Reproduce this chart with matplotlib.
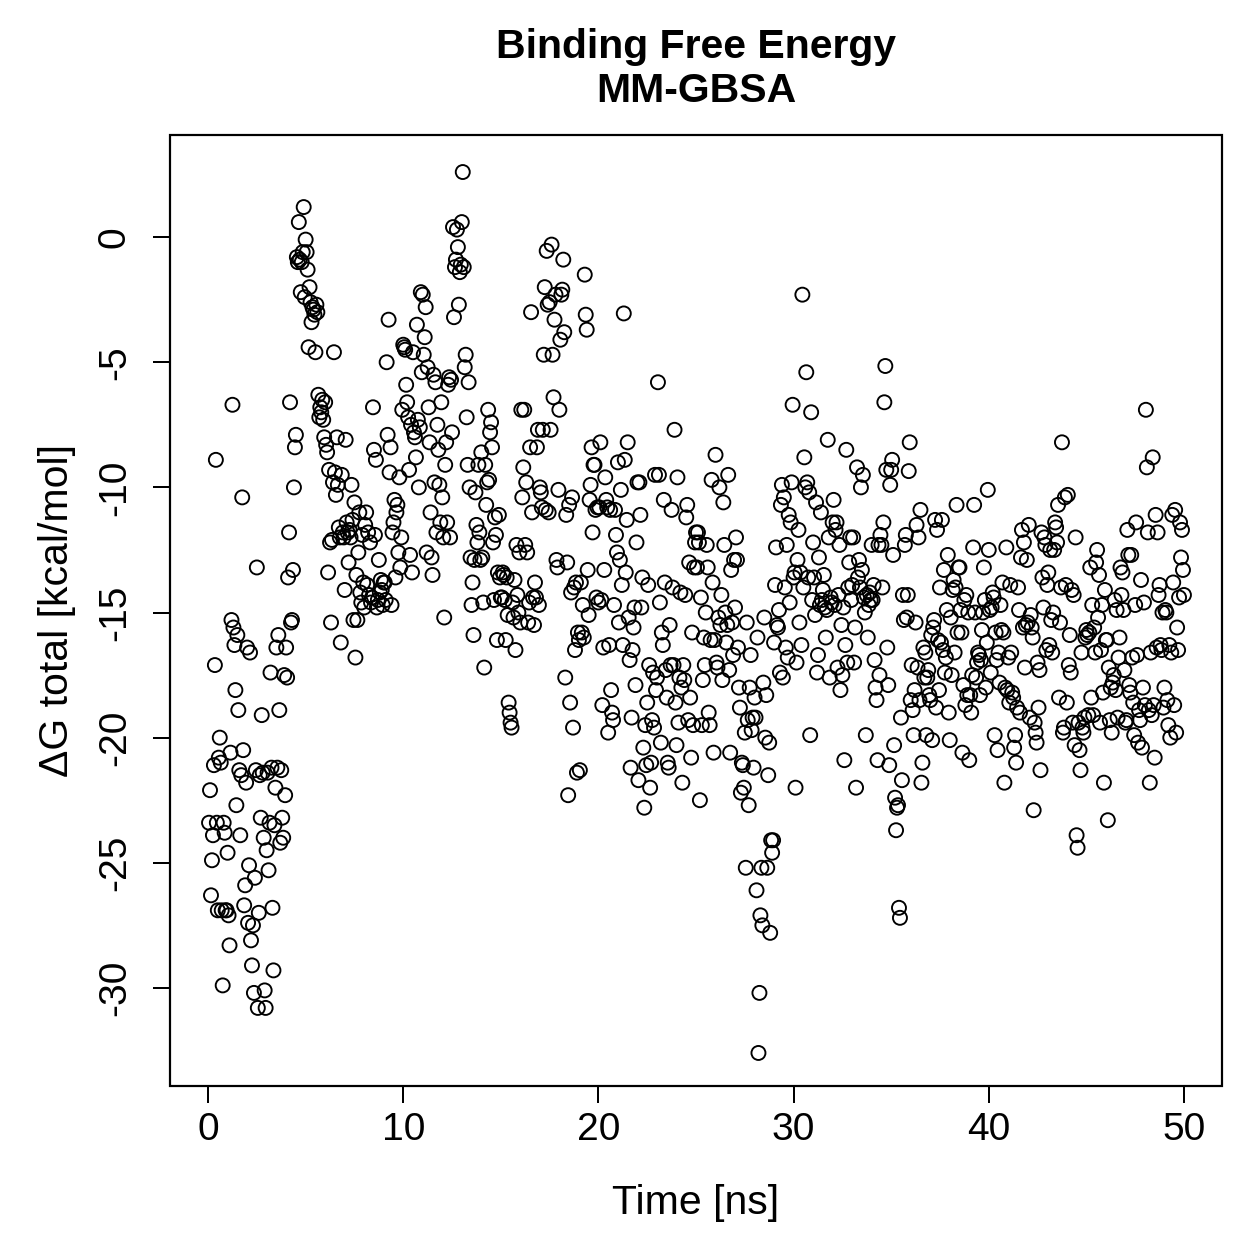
import numpy as np
import matplotlib
matplotlib.use("Agg")
import matplotlib.pyplot as plt

plt.rcParams['font.family'] = ['Liberation Sans', 'DejaVu Sans']
plt.rcParams['axes.unicode_minus'] = False

# Binding free energy per frame (20 frames per ns, 0.05 ns step), kcal/mol
dg_rows = [
    [-23.4, -22.1, -26.3, -24.9, -23.9, -21.1, -17.1, -8.9, -23.4, -26.9, -20.8, -20.0, -21.0, -26.9, -29.9, -23.4, -23.8, -26.9, -26.9, -24.6],
    [-27.1, -28.3, -20.6, -15.3, -6.7, -15.6, -16.3, -18.1, -22.7, -15.9, -18.9, -21.3, -23.9, -21.5, -10.4, -20.5, -26.7, -25.9, -21.8, -16.4],
    [-27.4, -25.1, -16.6, -28.1, -29.1, -27.5, -30.2, -25.6, -21.3, -13.2, -30.8, -27.0, -21.5, -23.2, -19.1, -21.4, -24.0, -30.1, -30.8, -24.5],
    [-21.4, -25.3, -23.4, -17.4, -21.2, -26.8, -29.3, -23.5, -22.0, -16.4, -21.2, -15.9, -18.9, -24.2, -21.3, -23.2, -24.0, -17.5, -22.3, -16.4],
    [-17.6, -13.6, -11.8, -6.6, -15.4, -15.3, -13.3, -10.0, -8.4, -7.9, -0.8, -1.0, 0.6, -0.9, -2.2, -1.0, -0.6, 1.2, -2.4, -0.1],
    [-0.6, -1.3, -4.4, -2.0, -2.6, -3.4, -2.8, -2.9, -3.1, -4.6, -2.7, -3.0, -6.3, -7.2, -6.8, -7.0, -6.5, -7.3, -8.0, -6.6],
    [-8.3, -8.6, -13.4, -9.3, -12.2, -15.4, -12.1, -9.8, -4.6, -9.4, -10.3, -8.0, -9.9, -11.6, -12.0, -16.2, -9.5, -11.8, -12.0, -14.1],
    [-8.1, -11.4, -11.8, -13.0, -11.7, -12.0, -9.9, -11.3, -15.3, -10.6, -16.8, -13.5, -15.3, -12.6, -11.0, -14.2, -14.6, -11.9, -13.8, -14.8],
    [-11.5, -11.0, -13.9, -11.8, -14.3, -12.2, -14.6, -14.4, -6.8, -8.5, -11.9, -8.9, -14.8, -14.5, -12.9, -14.2, -13.7, -14.1, -14.7, -13.8],
    [-13.8, -14.5, -5.0, -7.9, -3.3, -9.4, -8.4, -14.7, -11.8, -11.4, -10.5, -13.6, -11.0, -10.7, -12.6, -9.6, -13.2, -12.0, -6.9, -4.3],
    [-4.4, -4.5, -5.9, -6.6, -7.2, -9.3, -12.7, -7.5, -13.4, -4.6, -7.8, -8.0, -8.8, -3.5, -7.3, -10.0, -7.6, -2.2, -5.4, -2.3],
    [-4.7, -4.0, -2.8, -12.6, -5.2, -6.8, -8.2, -11.0, -12.8, -13.5, -5.5, -9.8, -5.8, -11.8, -7.5, -8.5, -9.9, -11.4, -6.6, -10.4],
    [-12.0, -15.2, -9.1, -8.2, -11.4, -5.9, -5.6, -12.0, -5.7, -7.8, 0.4, -3.2, -1.2, -0.9, 0.3, -0.4, -2.7, -1.4, -1.1, 0.6],
    [2.6, -1.2, -5.2, -4.7, -7.2, -9.1, -5.8, -10.0, -12.8, -14.7, -13.8, -15.9, -12.9, -10.2, -11.5, -12.2, -9.1, -11.8, -12.9, -8.6],
    [-12.8, -14.6, -17.2, -9.1, -10.7, -9.8, -6.9, -9.7, -7.8, -7.4, -8.4, -12.2, -14.5, -11.2, -11.9, -16.1, -13.4, -11.1, -13.6, -14.4],
    [-14.4, -13.4, -13.5, -14.5, -16.1, -13.6, -15.1, -18.6, -19.0, -19.4, -19.6, -14.6, -15.2, -13.7, -16.5, -12.3, -14.3, -15.0, -12.6, -15.4],
    [-6.9, -10.4, -9.2, -6.9, -12.3, -9.8, -12.6, -15.4, -14.6, -8.4, -3.0, -11.0, -14.4, -15.5, -13.8, -14.4, -8.4, -7.7, -14.7, -10.0],
    [-10.2, -10.8, -7.7, -4.7, -2.0, -10.9, -0.55, -2.7, -11.0, -2.6, -7.7, -0.3, -4.7, -6.4, -3.3, -2.3, -12.9, -13.2, -10.1, -6.9],
    [-4.1, -2.3, -2.1, -0.9, -3.8, -17.6, -11.1, -13.0, -22.3, -10.7, -18.6, -14.2, -10.4, -19.6, -14.0, -16.5, -13.8, -21.4, -15.8, -16.1],
    [-21.3, -13.8, -15.8, -14.7, -16.0, -1.5, -3.1, -3.7, -13.3, -15.1, -10.5, -9.9, -8.4, -11.8, -9.1, -9.1, -10.9, -14.4, -10.8, -14.6],
    [-10.8, -8.2, -14.5, -18.7, -16.4, -13.3, -9.6, -10.5, -10.8, -19.8, -16.3, -10.9, -18.1, -19.0, -19.3, -14.7, -10.9, -11.9, -12.6, -9.0],
    [-15.4, -12.9, -10.1, -13.9, -16.3, -3.05, -8.9, -13.4, -11.3, -8.2, -15.2, -16.9, -21.2, -19.2, -16.5, -15.6, -14.8, -17.9, -12.2, -9.8],
    [-21.7, -9.8, -11.1, -14.8, -13.6, -20.4, -22.8, -19.5, -21.1, -18.6, -13.9, -17.1, -22.0, -21.0, -19.3, -17.4, -19.6, -9.5, -18.1, -17.6],
    [-5.8, -9.5, -14.6, -20.2, -15.8, -16.3, -10.5, -13.8, -17.3, -18.4, -21.0, -21.2, -15.5, -17.1, -10.9, -14.0, -17.1, -7.7, -18.6, -20.3],
    [-9.6, -19.4, -17.6, -14.2, -18.0, -21.8, -17.1, -17.7, -14.3, -11.2, -10.7, -19.3, -13.0, -18.4, -20.8, -15.8, -19.5, -13.2, -12.2, -11.8],
    [-13.2, -11.8, -12.2, -22.5, -14.4, -19.5, -17.7, -16.0, -17.1, -15.0, -12.3, -13.2, -19.0, -19.5, -16.1, -9.7, -13.8, -20.6, -16.1, -8.7],
    [-17.0, -17.2, -15.2, -10.0, -15.5, -14.3, -17.7, -10.6, -12.3, -15.0, -16.2, -15.5, -9.5, -17.3, -20.6, -13.3, -15.4, -16.7, -12.9, -14.8],
    [-12.0, -12.9, -16.4, -18.0, -18.8, -22.2, -21.0, -21.1, -22.0, -19.8, -25.2, -15.4, -19.3, -22.7, -18.0, -16.7, -19.7, -19.2, -21.2, -18.4],
    [-19.2, -26.1, -16.0, -32.6, -30.2, -27.1, -25.2, -27.5, -17.8, -15.2, -20.0, -18.3, -25.2, -21.5, -20.2, -27.8, -24.1, -24.6, -24.1, -16.2],
    [-13.9, -12.4, -15.5, -15.6, -14.9, -17.4, -10.7, -9.9, -17.6, -10.4, -14.0, -16.4, -12.3, -16.8, -11.1, -14.6, -11.4, -9.8, -6.7, -13.6],
    [-13.4, -22.0, -17.0, -12.9, -11.7, -15.4, -13.4, -16.3, -2.3, -14.0, -8.8, -10.0, -5.4, -9.8, -13.6, -10.2, -19.9, -7.0, -14.5, -12.2],
    [-13.6, -15.1, -10.6, -17.4, -16.7, -12.8, -14.7, -11.0, -14.5, -14.1, -13.5, -14.8, -16.0, -14.9, -8.1, -12.0, -17.6, -14.4, -14.6, -11.4],
    [-10.5, -14.7, -11.7, -11.4, -17.2, -14.3, -12.3, -18.1, -15.5, -17.5, -14.8, -20.9, -16.3, -8.5, -17.0, -14.0, -13.0, -12.0, -14.5, -13.9],
    [-12.0, -17.0, -15.6, -22.0, -9.2, -13.6, -12.9, -14.0, -10.0, -13.3, -9.5, -14.4, -15.0, -19.9, -14.3, -16.0, -14.7, -14.2, -14.5, -12.3],
    [-14.5, -13.9, -16.9, -18.0, -18.5, -20.9, -12.3, -17.5, -11.9, -12.3, -14.0, -11.4, -6.6, -5.15, -9.3, -16.4, -17.9, -21.1, -9.9, -9.3],
    [-8.9, -12.7, -20.3, -22.4, -23.7, -22.8, -22.7, -26.8, -27.2, -19.2, -21.7, -14.3, -15.3, -12.3, -11.9, -15.2, -14.3, -9.35, -8.2, -18.5],
    [-17.1, -18.9, -19.9, -18.1, -15.4, -11.5, -17.2, -12.0, -18.5, -10.9, -21.8, -21.0, -16.4, -17.6, -16.6, -19.9, -17.6, -17.3, -18.3, -18.5],
    [-15.9, -20.1, -15.6, -15.3, -11.3, -18.8, -11.7, -16.1, -18.1, -14.0, -16.2, -11.3, -16.5, -13.3, -17.4, -16.8, -14.9, -12.7, -19.0, -20.1],
    [-15.2, -17.5, -14.1, -13.7, -16.6, -14.0, -10.7, -15.8, -13.2, -13.2, -14.9, -15.8, -20.6, -17.9, -14.5, -18.7, -14.3, -18.3, -15.0, -20.9],
    [-18.3, -19.0, -17.5, -12.4, -10.7, -15.0, -17.6, -17.0, -16.6, -16.7, -18.3, -16.9, -15.7, -15.0, -13.2, -14.5, -18.0, -16.2, -10.1, -12.5],
    [-14.9, -17.4, -14.8, -14.2, -14.4, -19.9, -15.8, -16.9, -20.5, -16.6, -17.8, -14.7, -15.7, -13.8, -15.8, -21.8, -18.0, -12.4, -18.1, -16.8],
    [-18.6, -13.9, -16.6, -18.2, -18.4, -20.4, -19.9, -21.0, -18.8, -14.0, -14.9, -19.0, -12.8, -11.7, -15.6, -12.2, -17.2, -15.5, -12.9, -15.4],
    [-11.5, -19.2, -15.1, -15.6, -16.0, -22.9, -19.4, -19.8, -20.2, -17.0, -18.8, -17.3, -21.3, -11.8, -13.6, -14.8, -12.0, -12.3, -16.5, -13.9],
    [-13.4, -16.3, -12.5, -15.3, -16.6, -15.0, -12.5, -11.4, -11.6, -12.2, -10.7, -18.4, -15.4, -14.0, -8.2, -19.8, -19.6, -10.4, -13.9, -18.6],
    [-10.3, -17.1, -15.9, -17.4, -14.1, -19.4, -14.3, -20.3, -12.0, -23.9, -24.4, -19.4, -20.5, -21.3, -16.6, -19.6, -19.8, -19.2, -16.0, -15.7],
    [-15.9, -19.1, -15.8, -13.2, -18.4, -14.7, -19.1, -15.6, -16.6, -13.0, -12.5, -15.2, -13.5, -19.4, -16.5, -14.7, -18.2, -21.8, -14.1, -16.1],
    [-16.1, -23.3, -17.2, -19.3, -18.0, -19.8, -17.8, -17.5, -14.5, -18.1, -14.9, -19.2, -16.8, -16.0, -13.2, -14.3, -13.4, -14.9, -17.3, -19.4],
    [-19.3, -11.7, -12.7, -17.9, -18.2, -12.7, -16.8, -18.6, -19.9, -14.7, -11.4, -16.7, -20.2, -18.9, -19.3, -13.7, -20.4, -18.0, -14.6, -18.7],
    [-6.9, -9.2, -11.8, -18.9, -21.8, -16.6, -19.1, -8.8, -18.7, -20.8, -11.1, -16.4, -11.8, -14.3, -13.9, -16.3, -16.5, -15.0, -18.8, -18.0],
    [-14.9, -15.0, -18.5, -19.5, -16.3, -20.0, -16.6, -11.1, -13.8, -18.7, -10.9, -19.8, -15.6, -16.5, -14.4, -11.4, -12.8, -11.7, -13.3, -14.3],
]
time_step_ns = 0.05

x_ticks = [0, 10, 20, 30, 40, 50]
y_ticks = [-30, -25, -20, -15, -10, -5, 0]
title_text = "Binding Free Energy\nMM-GBSA"
x_label = "Time [ns]"
y_label = "\u0394G total [kcal/mol]"

dg = np.array([v for row in dg_rows for v in row])
time = np.arange(1, len(dg) + 1) * time_step_ns

W = H = 1259
dpi = 100
fig = plt.figure(figsize=(W / dpi, H / dpi), dpi=dpi)
px2pt = 72.0 / dpi

L, R, T, B = 170, 1222, 135, 1086
ax = fig.add_axes([L / W, 1 - B / H, (R - L) / W, (B - T) / H])

ax.scatter(time, dg, s=(14 * px2pt) ** 2, facecolors='none',
           edgecolors='black', linewidths=1.9 * px2pt)

ax.set_xlim(-1.95, 51.95)
ax.set_ylim(-33.92, 4.08)
ax.set_xticks(x_ticks)
ax.set_yticks(y_ticks)
ax.set_xticklabels([str(t) for t in x_ticks])
ax.set_yticklabels([str(t) for t in y_ticks], rotation=90, va='center')

fs_tick = 39 * px2pt
ax.tick_params(axis='both', direction='out', length=17 * px2pt,
               width=2 * px2pt, labelsize=fs_tick)
ax.tick_params(axis='x', pad=9 * px2pt)
ax.tick_params(axis='y', pad=20 * px2pt)
for s in ax.spines.values():
    s.set_visible(False)
ax.add_patch(plt.Rectangle((0, 0), 1, 1, transform=ax.transAxes, fill=False,
                           lw=2.2 * px2pt, edgecolor='black', clip_on=False))

fig.text((L + R) / 2 / W, 1 - 1203 / H, x_label, ha='center', va='center',
         fontsize=41 * px2pt)
fig.text(57 / W, 1 - ((T + B) / 2) / H, y_label, ha='center', va='center',
         rotation=90, fontsize=41 * px2pt)
fig.text((L + R) / 2 / W, 1 - 69 / H, title_text, ha='center', va='center',
         fontsize=41 * px2pt, fontweight='bold', linespacing=1.2)

fig.savefig("out.png", dpi=dpi)
